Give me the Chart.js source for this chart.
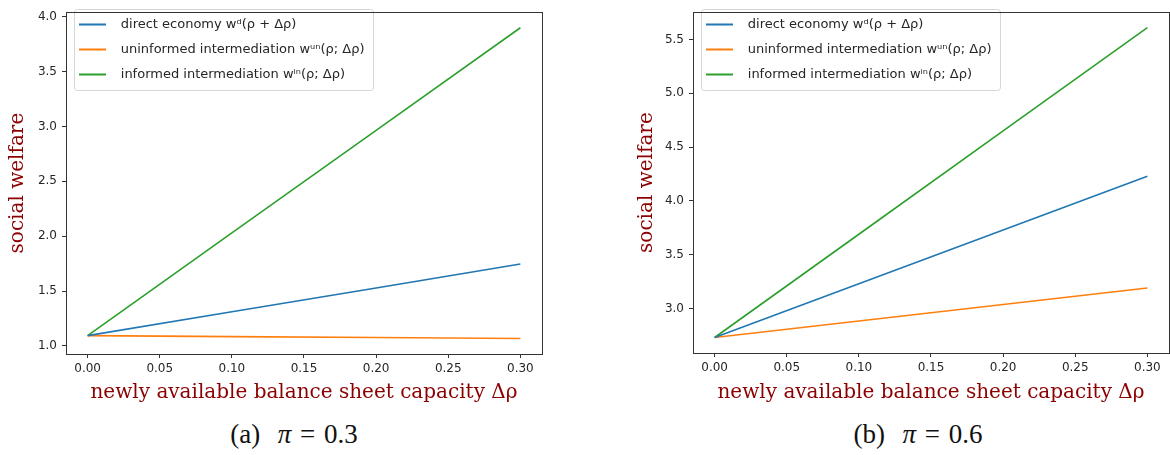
<!DOCTYPE html>
<html>
<head>
<meta charset="utf-8">
<script src="https://cdn.jsdelivr.net/npm/chart.js@4/dist/chart.umd.min.js"></script>
<style>
  html, body { margin: 0; padding: 0; background: #fff; }
  body { width: 1170px; height: 455px; position: relative; overflow: hidden; }
  canvas { position: absolute; top: 0; }
  #cA { left: 0; }
  #cB { left: 630px; }
  .cap { position: absolute; top: 419px; font-family: "Liberation Serif", "DejaVu Serif", serif; font-size: 27px; color: #111; white-space: nowrap; transform: translateX(-50%); word-spacing: 2px; }
</style>
</head>
<body>
<canvas id="cA" width="570" height="410"></canvas>
<canvas id="cB" width="540" height="410"></canvas>
<div class="cap" style="left:294px">(a)&nbsp; <i>π</i> = 0.3</div>
<div class="cap" style="left:918px">(b)&nbsp; <i>π</i> = 0.6</div>
<script>
// ---- data ----
const xValues = [0.00, 0.10, 0.20, 0.30];
const xTicks = [0.00, 0.05, 0.10, 0.15, 0.20, 0.25, 0.30];

// panel (a) pi = 0.3
const directA = [1.094, 1.311, 1.528, 1.746];
const uninfA  = [1.094, 1.085, 1.077, 1.068];
const infA    = [1.094, 2.030, 2.965, 3.900];
const yTicksA = [1.0, 1.5, 2.0, 2.5, 3.0, 3.5, 4.0];

// panel (b) pi = 0.6
const directB = [2.730, 3.230, 3.730, 4.230];
const uninfB  = [2.730, 2.883, 3.037, 3.190];
const infB    = [2.730, 3.690, 4.650, 5.610];
const yTicksB = [3.0, 3.5, 4.0, 4.5, 5.0, 5.5];

const seriesNames = [
  'direct economy wᵈ(ρ + Δρ)',
  'uninformed intermediation wᵘⁿ(ρ; Δρ)',
  'informed intermediation wⁱⁿ(ρ; Δρ)'
];
const colors = ['#1f77b4', '#ff7f0e', '#2ca02c'];
const xTitle = 'newly available balance sheet capacity Δρ';
const yTitle = 'social welfare';

const axisColor = '#333333';
const tickColor = '#262626';
const titleColor = '#8b0000';

function pts(ys) { return xValues.map((x, i) => ({ x: x, y: ys[i] })); }

const LEG_DX = 1, LEG_DY = 6;

const frameAndLegendBox = {
  id: 'frameAndLegendBox',
  afterLayout(chart) {
    const lg = chart.legend;
    if (!lg) return;
    lg.top += LEG_DY; lg.bottom += LEG_DY;
    lg.left += LEG_DX; lg.right += LEG_DX;
    (lg.legendHitBoxes || []).forEach(h => { h.top += LEG_DY; h.left += LEG_DX; });
  },
  beforeDraw(chart) {
    const lg = chart.legend;
    if (!lg || !lg.legendHitBoxes || !lg.legendHitBoxes.length) return;
    const hb = lg.legendHitBoxes;
    let l = Infinity, t = Infinity, r = -Infinity, b = -Infinity;
    hb.forEach(h => { l = Math.min(l, h.left); t = Math.min(t, h.top); r = Math.max(r, h.left + h.width); b = Math.max(b, h.top + h.height); });
    const ctx = chart.ctx;
    const x0 = Math.round(l - 6), y0 = Math.round(t - 9), x1 = Math.round(r + 7), y1 = Math.round(b + 9);
    ctx.save();
    ctx.beginPath();
    if (ctx.roundRect) ctx.roundRect(x0 + 0.5, y0 + 0.5, x1 - x0, y1 - y0, 3); else ctx.rect(x0 + 0.5, y0 + 0.5, x1 - x0, y1 - y0);
    ctx.fillStyle = 'rgba(255,255,255,0.8)';
    ctx.fill();
    ctx.strokeStyle = '#d6d6d6';
    ctx.lineWidth = 1;
    ctx.stroke();
    ctx.restore();
  },
  afterDraw(chart) {
    const a = chart.chartArea;
    const ctx = chart.ctx;
    ctx.save();
    ctx.strokeStyle = axisColor;
    ctx.lineWidth = 1;
    ctx.strokeRect(Math.round(a.left) + 0.5, Math.round(a.top) + 0.5, Math.round(a.right - a.left), Math.round(a.bottom - a.top));
    ctx.restore();
  }
};

function makeChart(id, d, u, inf, yTicks, yAxisWidth, xAxisHeight, padRight, yTitlePad) {
  const all = d.concat(u, inf);
  const dmin = Math.min(...all), dmax = Math.max(...all);
  const ym = (dmax - dmin) * 0.05;
  const xm = (xValues[xValues.length - 1] - xValues[0]) * 0.05;
  const series = [d, u, inf];
  return new Chart(document.getElementById(id), {
    type: 'line',
    data: {
      datasets: series.map((s, i) => ({
        label: seriesNames[i],
        data: pts(s),
        borderColor: colors[i],
        backgroundColor: colors[i],
        borderWidth: 1.6,
        pointRadius: 0,
        tension: 0,
        fill: false
      }))
    },
    options: {
      responsive: false,
      animation: false,
      devicePixelRatio: 1,
      layout: { padding: { top: 1, right: padRight, bottom: 0, left: 0 } },
      plugins: {
        tooltip: { enabled: false },
        legend: {
          position: 'chartArea',
          align: 'start',
          labels: {
            usePointStyle: true,
            pointStyle: 'line',
            pointStyleWidth: 27,
            padding: 12,
            color: '#262626',
            font: { family: 'DejaVu Sans', size: 13 },
            generateLabels(chart) {
              return chart.data.datasets.map((ds, i) => ({
                text: '  ' + ds.label,
                strokeStyle: ds.borderColor,
                fillStyle: ds.borderColor,
                lineWidth: 2,
                pointStyle: 'line',
                datasetIndex: i,
                hidden: false,
                fontColor: '#262626'
              }));
            }
          }
        }
      },
      scales: {
        x: {
          type: 'linear',
          min: xValues[0] - xm,
          max: xValues[xValues.length - 1] + xm,
          afterBuildTicks(scale) { scale.ticks = xTicks.map(v => ({ value: v })); },
          afterFit(scale) { scale.height = xAxisHeight; },
          grid: { display: true, drawOnChartArea: false, drawTicks: true, tickLength: 4, color: axisColor },
          border: { display: true, color: axisColor, width: 1 },
          ticks: {
            padding: 4,
            color: tickColor,
            maxRotation: 0,
            font: { family: 'DejaVu Sans', size: 12 },
            callback: v => Number(v).toFixed(2)
          },
          title: {
            display: true,
            text: xTitle,
            color: titleColor,
            padding: { top: 2, bottom: 5 },
            font: { family: 'DejaVu Serif', size: 20 }
          }
        },
        y: {
          type: 'linear',
          min: dmin - ym,
          max: dmax + ym,
          afterBuildTicks(scale) { scale.ticks = yTicks.map(v => ({ value: v })); },
          afterFit(scale) { scale.width = yAxisWidth; },
          grid: { display: true, drawOnChartArea: false, drawTicks: true, tickLength: 4, color: axisColor },
          border: { display: true, color: axisColor, width: 1 },
          ticks: {
            padding: 5,
            color: tickColor,
            font: { family: 'DejaVu Sans', size: 12 },
            callback: v => Number(v).toFixed(1)
          },
          title: {
            display: true,
            text: yTitle,
            color: titleColor,
            padding: { top: yTitlePad, bottom: 2 },
            font: { family: 'DejaVu Serif', size: 20 }
          }
        }
      }
    },
    plugins: [frameAndLegendBox]
  });
}

makeChart('cA', directA, uninfA, infA, yTicksA, 66, 56, 28, 6);
makeChart('cB', directB, uninfB, infB, yTicksB, 63, 57, 1, 5);
</script>
</body>
</html>
